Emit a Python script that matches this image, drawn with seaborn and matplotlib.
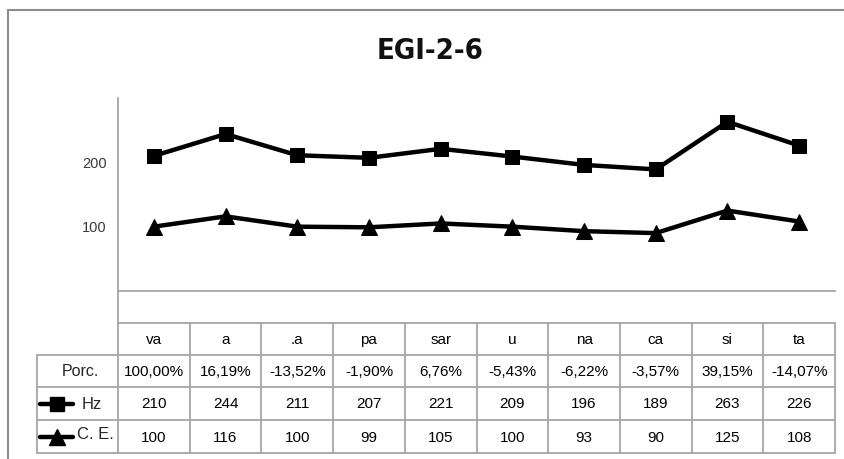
import matplotlib
matplotlib.use("Agg")
import matplotlib.pyplot as plt
import seaborn as sns
import pandas as pd

sns.set_style("white")
plt.rcParams['font.family'] = ['Liberation Sans', 'DejaVu Sans']

title = "EGI-2-6"
categories = ["va", "a", ".a", "pa", "sar", "u", "na", "ca", "si", "ta"]
porc = ["100,00%", "16,19%", "-13,52%", "-1,90%", "6,76%", "-5,43%", "-6,22%", "-3,57%", "39,15%", "-14,07%"]
hz = [210, 244, 211, 207, 221, 209, 196, 189, 263, 226]
ce = [100, 116, 100, 99, 105, 100, 93, 90, 125, 108]
yticks = [100, 200]

W, H = 844, 459
fig = plt.figure(figsize=(W / 100, H / 100), dpi=100)


def rect(x0, y0, x1, y1):
    return [x0 / W, 1 - y1 / H, (x1 - x0) / W, (y1 - y0) / H]


GRID = "#a6a6a6"
x_left_tab, x_plot0, x_plot1 = 37, 118, 835
y_top, y_axis = 98, 291

# main plot
ax = fig.add_axes(rect(x_plot0, y_top, x_plot1, y_axis))
df = pd.DataFrame({"pos": list(range(len(categories))), "cat": categories, "Hz": hz, "C. E.": ce})
sns.lineplot(data=df, x="pos", y="Hz", marker="s", color="black", linewidth=3.2,
             markersize=10, markeredgecolor="black", ax=ax, legend=False)
sns.lineplot(data=df, x="pos", y="C. E.", marker="^", color="black", linewidth=3.2,
             markersize=11, markeredgecolor="black", ax=ax, legend=False)
ax.set_xlim(-0.5, len(categories) - 0.5)
ax.set_ylim(0, 300)
ax.set_yticks(yticks)
ax.set_yticklabels([str(t) for t in yticks], fontsize=10.5, color="#3a3a3a")
ax.set_xticks([])
ax.set_xlabel("")
ax.set_ylabel("")
ax.tick_params(axis="y", length=0, pad=8)
for s in ["top", "right"]:
    ax.spines[s].set_visible(False)
for s in ["left", "bottom"]:
    ax.spines[s].set_color(GRID)
    ax.spines[s].set_linewidth(1.3)
ax.patch.set_alpha(0)

# overlay in pixel coordinates for table and frame
ov = fig.add_axes([0, 0, 1, 1], zorder=-1)
ov.set_xlim(0, W)
ov.set_ylim(H, 0)
ov.axis("off")

# outer frame
ov.plot([8, 8], [10, H + 5], color="#8c8c8c", lw=1.5)
ov.plot([8, W + 5], [10, 10], color="#8c8c8c", lw=1.5)

# title
ov.text(430, 51, title, ha="center", va="center", fontsize=21, fontweight="bold",
        family=["DejaVu Sans"], fontstretch="condensed", color="#111111")

n = len(categories)
colw = (x_plot1 - x_plot0) / n
row_y = [323, 355, 387, 420, 453]

ov.plot([x_plot0, x_plot1], [row_y[0], row_y[0]], color=GRID, lw=1.3)
for y in row_y[1:]:
    ov.plot([x_left_tab, x_plot1], [y, y], color=GRID, lw=1.3)
ov.plot([x_plot0, x_plot0], [y_axis, row_y[-1]], color=GRID, lw=1.3)
ov.plot([x_left_tab, x_left_tab], [row_y[1], row_y[-1]], color=GRID, lw=1.3)
for k in range(1, n + 1):
    xk = x_plot0 + k * colw
    ov.plot([xk, xk], [row_y[0], row_y[-1]], color=GRID, lw=1.3)

rows = [categories, porc, [str(v) for v in hz], [str(v) for v in ce]]
for r, vals in enumerate(rows):
    yc = (row_y[r] + row_y[r + 1]) / 2 + 1
    for k, v in enumerate(vals):
        ov.text(x_plot0 + (k + 0.5) * colw, yc, v, ha="center", va="center",
                fontsize=11, color="black")

# row labels
yc = (row_y[1] + row_y[2]) / 2 + 1
ov.text(80, yc, "Porc.", ha="center", va="center", fontsize=11.5)
yc = (row_y[2] + row_y[3]) / 2
ov.plot([40, 73], [yc, yc], color="black", lw=3.2)
ov.plot([56.5], [yc], marker="s", color="black", markersize=10)
ov.text(82, yc + 1, "Hz", ha="left", va="center", fontsize=12)
yc = (row_y[3] + row_y[4]) / 2
ov.plot([40, 73], [yc, yc], color="black", lw=3.2)
ov.plot([56.5], [yc], marker="^", color="black", markersize=11)
ov.text(77, yc - 2, "C. E.", ha="left", va="center", fontsize=12)

fig.savefig("out.png", dpi=100)
